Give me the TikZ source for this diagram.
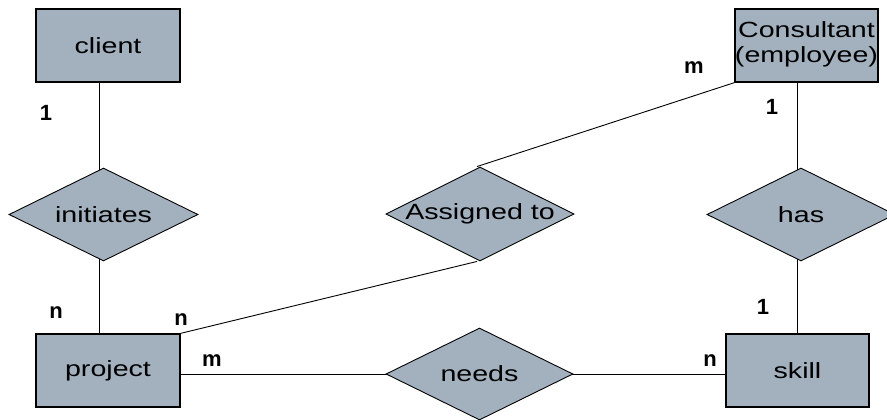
\documentclass[tikz,border=0pt]{standalone}
\usepackage{fontspec}
\setmainfont{Liberation Sans}
\usetikzlibrary{shapes.geometric,backgrounds}
\definecolor{erfill}{RGB}{163,177,191}
\newcommand{\wide}[1]{\scalebox{1.3}[1]{#1}}
\tikzset{
  entity/.style={draw=black, line width=1.3pt, fill=erfill, minimum width=144pt,
    minimum height=73pt, inner sep=0pt,
    font=\fontsize{22}{25}\selectfont},
  relation/.style={diamond, draw=black, line width=0.9pt, fill=erfill, inner sep=0pt,
    minimum width=188pt, minimum height=93pt},
  reltext/.style={font=\fontsize{22}{25}\selectfont, inner sep=0pt},
  card/.style={font=\fontsize{22}{26}\selectfont\bfseries, inner sep=0pt},
  link/.style={draw=black, line width=0.9pt}
}
\begin{document}
\begin{tikzpicture}[x=1pt, y=-1pt]
  \useasboundingbox (0,0) rectangle (887,420);
  \clip (0,0) rectangle (887,420);

  % entities
  \node[entity] (client) at (108,45.5) {\wide{client}};
  \node[entity, minimum width=143pt] (consultant) at (806.5,45.5)
    {\wide{\begin{tabular}{@{}c@{}}Consultant\\(employee)\end{tabular}}};
  \node[entity] (project) at (108,370.5) {\wide{project}};
  \node[entity, minimum width=143pt] (skill) at (797.5,370.5) {\wide{skill}};

  % relationships
  \node[relation, minimum width=189pt] (initiates) at (103.5,214.5) {};
  \node[reltext] (initiatesT) at (initiates.center) {\wide{initiates}};
  \node[relation, minimum height=94pt] (assigned) at (480,214) {};
  \node[reltext] (assignedT) at (assigned.center) {\wide{Assigned to}};
  \node[relation] (has) at (801,214.5) {};
  \node[reltext] (hasT) at (has.center) {\wide{has}};
  \node[relation, minimum width=187pt, minimum height=92pt] (needs) at (479.5,374) {};
  \node[reltext] (needsT) at (needs.center) {\wide{needs}};

  % cardinalities
  \node[card] (c1) at (46,113) {1};
  \node[card] (c2) at (694,68) {m};
  \node[card] (c3) at (772,107) {1};
  \node[card] (c4) at (56,313) {n};
  \node[card] (c5) at (181,320) {n};
  \node[card] (c6) at (212,361) {m};
  \node[card] (c7) at (763,307) {1};
  \node[card] (c8) at (710,361) {n};

  % connectors behind the shapes
  \begin{pgfonlayer}{background}
    \draw[link] ([xshift=-9pt]client.south) -- ([xshift=-9pt]client.south |- initiates.center);
    \draw[link] ([xshift=-9pt]project.north |- initiates.center) -- ([xshift=-9pt]project.north);
    \draw[link] (consultant.south west) -- ([xshift=-3pt]assigned.north);
    \draw[link] ([xshift=-3pt]assigned.south) -- (project.north east);
    \draw[link] ([xshift=-9.5pt]consultant.south) -- ([xshift=-9.5pt]consultant.south |- has.center);
    \draw[link] (skill.north |- has.center) -- (skill.north);
    \draw[link] (project.east |- needs.center) -- (needs.center);
    \draw[link] (needs.center) -- (skill.west |- needs.center);
  \end{pgfonlayer}
\end{tikzpicture}
\end{document}
